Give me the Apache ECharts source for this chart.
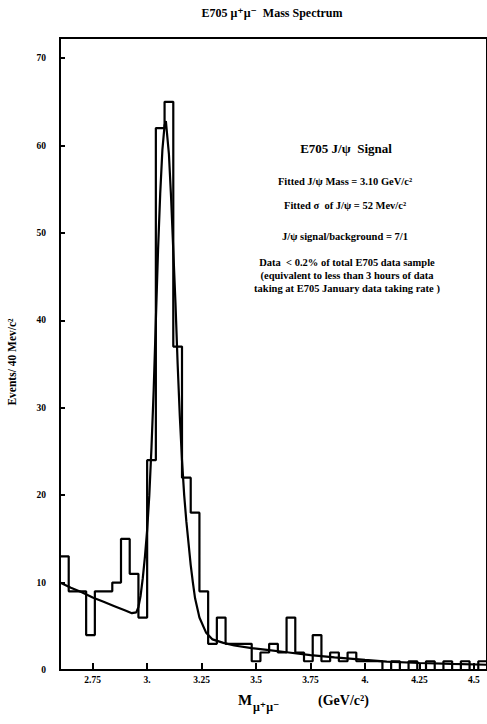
<!DOCTYPE html>
<html>
<head>
<meta charset="utf-8">
<title>E705 Mass Spectrum</title>
<script src="https://cdn.jsdelivr.net/npm/echarts@6/dist/echarts.min.js"></script>
<style>
html, body { margin: 0; padding: 0; background: #fff; }
#chart { width: 487px; height: 724px; }
</style>
</head>
<body>
<div id="chart"></div>
<script>
// 40 MeV bins, first bin starts at 2.60 GeV
var binStart = 2.60;
var binWidth = 0.04;
var counts = [13, 9, 9, 4, 9, 9, 10, 15, 11, 6,
    24, 62, 65, 37, 22, 18, 9, 3, 6, 3,
    3, 3, 1, 2, 3, 2, 6, 2, 1, 4,
    1, 2, 1, 2, 1, 1, 1, 0, 1, 0,
    1, 0, 1, 0, 1, 0, 1, 0, 1];

// fitted curve
var fitMass = [2.60, 2.65, 2.70, 2.75, 2.80, 2.85, 2.90, 2.93, 2.95, 2.96,
    2.97, 2.98, 2.99, 3.00, 3.01, 3.02, 3.03, 3.04, 3.05, 3.06,
    3.07, 3.08, 3.086, 3.10, 3.11, 3.12, 3.13, 3.14, 3.15, 3.16,
    3.17, 3.18, 3.19, 3.20, 3.21, 3.22, 3.24, 3.27, 3.30, 3.35,
    3.40, 3.48, 3.55, 3.65, 3.75, 3.86, 4.00, 4.10, 4.25, 4.40, 4.56];
var fitEvents = [10.0, 9.4, 8.9, 8.3, 7.8, 7.3, 6.8, 6.5, 6.6, 7.2,
    8.5, 10.5, 13, 16, 20, 25.5, 32, 40, 48, 54.5,
    59.5, 62.3, 62.8, 59, 54, 48, 42, 35, 29, 24,
    20, 17, 14.5, 12, 10, 8.2, 6.0, 4.3, 3.5, 3.1,
    2.8, 2.5, 2.3, 2.0, 1.7, 1.45, 1.15, 0.95, 0.8, 0.7, 0.6];

var xTicks = [2.75, 3, 3.25, 3.5, 3.75, 4, 4.25, 4.5];
var xTickLabels = ['2.75', '3.', '3.25', '3.5', '3.75', '4.', '4.25', '4.5'];
var yTicks = [0, 10, 20, 30, 40, 50, 60, 70];

var notes = [
    'Fitted J/ψ Mass = 3.10 GeV/c²',
    'Fitted σ  of J/ψ = 52 Mev/c²',
    'J/ψ signal/background = 7/1'
];
var noteLines = [
    'Data  < 0.2% of total E705 data sample',
    '(equivalent to less than 3 hours of data',
    'taking at E705 January data taking rate )'
];

var histData = counts.map(function (c, i) {
    return [binStart + i * binWidth, c];
});
histData.push([binStart + counts.length * binWidth, counts[counts.length - 1]]);

var fitData = fitMass.map(function (m, i) { return [m, fitEvents[i]]; });

var serif = '"Liberation Serif", "DejaVu Serif", serif';

function txt(x, y, text, size, extra) {
    var style = {
        text: text, x: 0, y: 0, fill: '#000',
        fontFamily: serif, fontWeight: 'bold', fontSize: size,
        align: 'center', verticalAlign: 'middle'
    };
    for (var k in (extra || {})) style[k] = extra[k];
    return { type: 'text', x: x, y: y, style: style, z: 10 };
}

var graphics = [
    txt(272, 13, 'E705 μ⁺μ⁻  Mass Spectrum', 12),
    txt(346, 148, 'E705 J/ψ  Signal', 13),
    txt(345, 181, notes[0], 10.5),
    txt(345, 205, notes[1], 10.5),
    txt(345, 236, notes[2], 10.5),
    txt(347, 262, noteLines[0], 10.5),
    txt(347, 275, noteLines[1], 10.5),
    txt(347, 288, noteLines[2], 10.5),
    txt(245, 700, 'M', 15),
    txt(253, 707, 'μ⁺μ⁻', 12, { align: 'left' }),
    txt(318, 700, '(GeV/c²)', 14, { align: 'left' })
];
var yTitle = txt(12, 362, 'Events/ 40 Mev/c²', 11.5);
yTitle.rotation = Math.PI / 2;
graphics.push(yTitle);

var chart = echarts.init(document.getElementById('chart'), null, { renderer: 'svg' });

var option = {
    animation: false,
    backgroundColor: '#fff',
    textStyle: { fontFamily: serif, fontWeight: 'bold', color: '#000' },
    grid: {
        left: 60, right: -4, top: 38, bottom: 54,
        show: true, borderColor: '#000', borderWidth: 2
    },
    xAxis: {
        type: 'value',
        min: 2.6,
        max: 4.56,
        axisLine: { lineStyle: { color: '#000', width: 2 } },
        axisTick: { inside: true, length: 7, customValues: xTicks, lineStyle: { color: '#000', width: 2 } },
        axisLabel: {
            customValues: xTicks,
            margin: 5,
            fontSize: 9.5,
            fontWeight: 'bold',
            color: '#000',
            formatter: function (v) {
                var i = xTicks.indexOf(v);
                return i >= 0 ? xTickLabels[i] : '';
            }
        },
        splitLine: { show: false }
    },
    yAxis: {
        type: 'value',
        min: 0,
        max: 72.3,
        axisLine: { lineStyle: { color: '#000', width: 2 } },
        axisTick: { inside: true, length: 5, customValues: yTicks, lineStyle: { color: '#000', width: 2 } },
        axisLabel: {
            customValues: yTicks,
            margin: 14,
            fontSize: 9.5,
            fontWeight: 'bold',
            color: '#000'
        },
        splitLine: { show: false }
    },
    graphic: graphics,
    series: [
        {
            name: 'Events',
            type: 'line',
            step: 'end',
            symbol: 'none',
            data: histData,
            lineStyle: { color: '#000', width: 2.2 },
            z: 3
        },
        {
            name: 'Fit',
            type: 'line',
            symbol: 'none',
            smooth: false,
            data: fitData,
            lineStyle: { color: '#000', width: 2.2 },
            z: 4
        }
    ]
};

chart.setOption(option);
</script>
</body>
</html>
